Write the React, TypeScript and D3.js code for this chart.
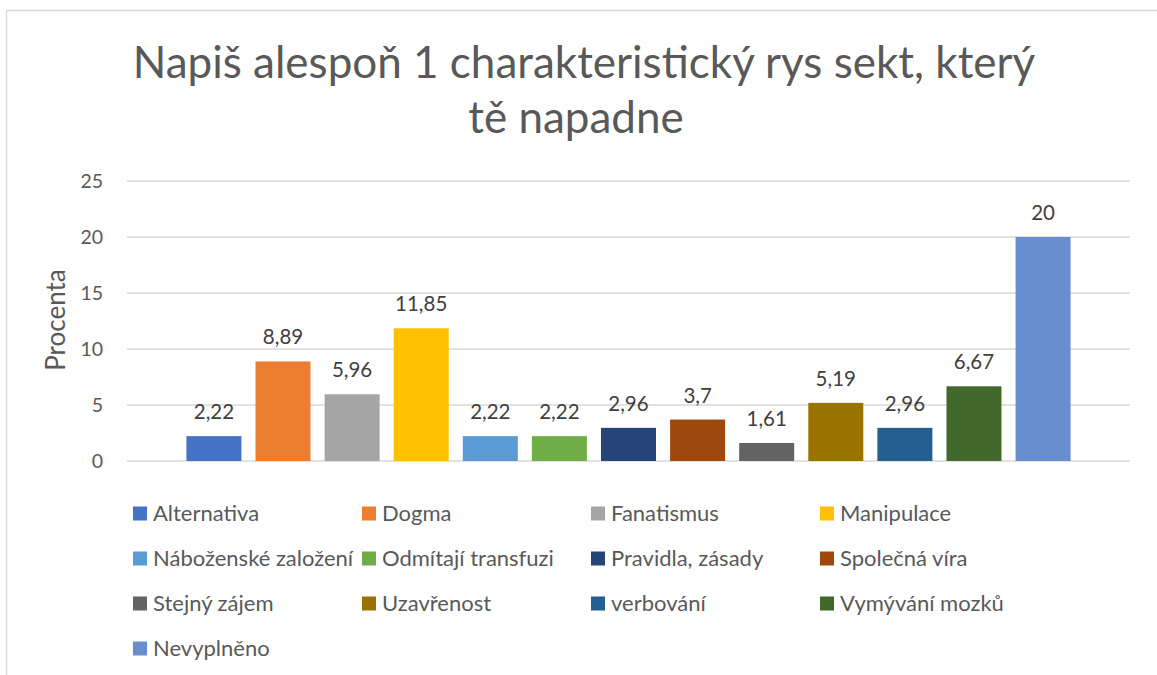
import React from "react";
import * as d3 from "d3";

const titleLines = ["Napiš alespoň 1 charakteristický rys sekt, který", "tě napadne"];
const seriesNames = [
  "Alternativa", "Dogma", "Fanatismus", "Manipulace",
  "Náboženské založení", "Odmítají transfuzi", "Pravidla, zásady", "Společná víra",
  "Stejný zájem", "Uzavřenost", "verbování", "Vymývání mozků",
  "Nevyplněno",
];
const seriesValues = [2.22, 8.89, 5.96, 11.85, 2.22, 2.22, 2.96, 3.7, 1.61, 5.19, 2.96, 6.67, 20];
const seriesColors = [
  "#4472C4", "#ED7D31", "#A5A5A5", "#FFC000",
  "#5B9BD5", "#70AD47", "#264478", "#9E480E",
  "#636363", "#997300", "#255E91", "#43682B",
  "#698ED0",
];
const yTicks = [0, 5, 10, 15, 20, 25];
const yAxisTitle = "Procenta";

const W = 1157;
const H = 675;
const plot = { left: 127, right: 1130, top: 181, bottom: 461 };
const FONT = "Lato, 'Open Sans', sans-serif";

export default function App() {
  const x = d3
    .scaleBand<string>()
    .domain(seriesNames)
    .range([plot.left, plot.right])
    .paddingInner(0.204)
    .paddingOuter(0.86);
  const y = d3.scaleLinear().domain([0, 25]).range([plot.bottom, plot.top]);
  const fmt = (v: number) => String(v).replace(".", ",");

  const legendCols = 4;
  const legendX0 = 133;
  const legendColW = 229;
  const legendY0 = 513.5;
  const legendRowH = 45;

  return (
    <svg
      width={W}
      height={H}
      style={{ position: "absolute", left: 0, top: 0, background: "#fff" }}
      fontFamily={FONT}
    >
      <rect x={0} y={0} width={W} height={H} fill="#fff" />
      <rect x={6.5} y={10.5} width={W + 50} height={H + 50} fill="none" stroke="#d9d9d9" strokeWidth={1.5} />
      {titleLines.map((t, i) => (
        <text key={i} x={i === 0 ? 584 : 576} y={78 + i * 55} textAnchor="middle" fontSize={44} fill="#595959">
          {t}
        </text>
      ))}
      {yTicks.map((t) => (
        <g key={t}>
          <line x1={plot.left} x2={plot.right} y1={y(t)} y2={y(t)} stroke="#d9d9d9" strokeWidth={1.3} />
          <text x={103} y={y(t)} dy="0.35em" textAnchor="end" fontSize={19.5} fill="#595959">
            {t}
          </text>
        </g>
      ))}
      <text
        transform={`translate(65,320) rotate(-90)`}
        textAnchor="middle"
        fontSize={26}
        fill="#595959"
      >
        {yAxisTitle}
      </text>
      {seriesNames.map((n, i) => (
        <g key={n}>
          <rect
            x={x(n)}
            y={y(seriesValues[i])}
            width={x.bandwidth()}
            height={y(0) - y(seriesValues[i])}
            fill={seriesColors[i]}
          />
          <text
            x={(x(n) as number) + x.bandwidth() / 2}
            y={y(seriesValues[i]) - 17}
            textAnchor="middle"
            fontSize={20.5}
            fill="#404040"
          >
            {fmt(seriesValues[i])}
          </text>
        </g>
      ))}
      {seriesNames.map((n, i) => {
        const col = i % legendCols;
        const row = Math.floor(i / legendCols);
        const lx = legendX0 + col * legendColW;
        const ly = legendY0 + row * legendRowH;
        return (
          <g key={"lg" + n}>
            <rect x={lx} y={ly - 7} width={14} height={14} fill={seriesColors[i]} />
            <text x={lx + 20} y={ly} dy="0.35em" fontSize={22} fill="#595959">
              {n}
            </text>
          </g>
        );
      })}
    </svg>
  );
}
